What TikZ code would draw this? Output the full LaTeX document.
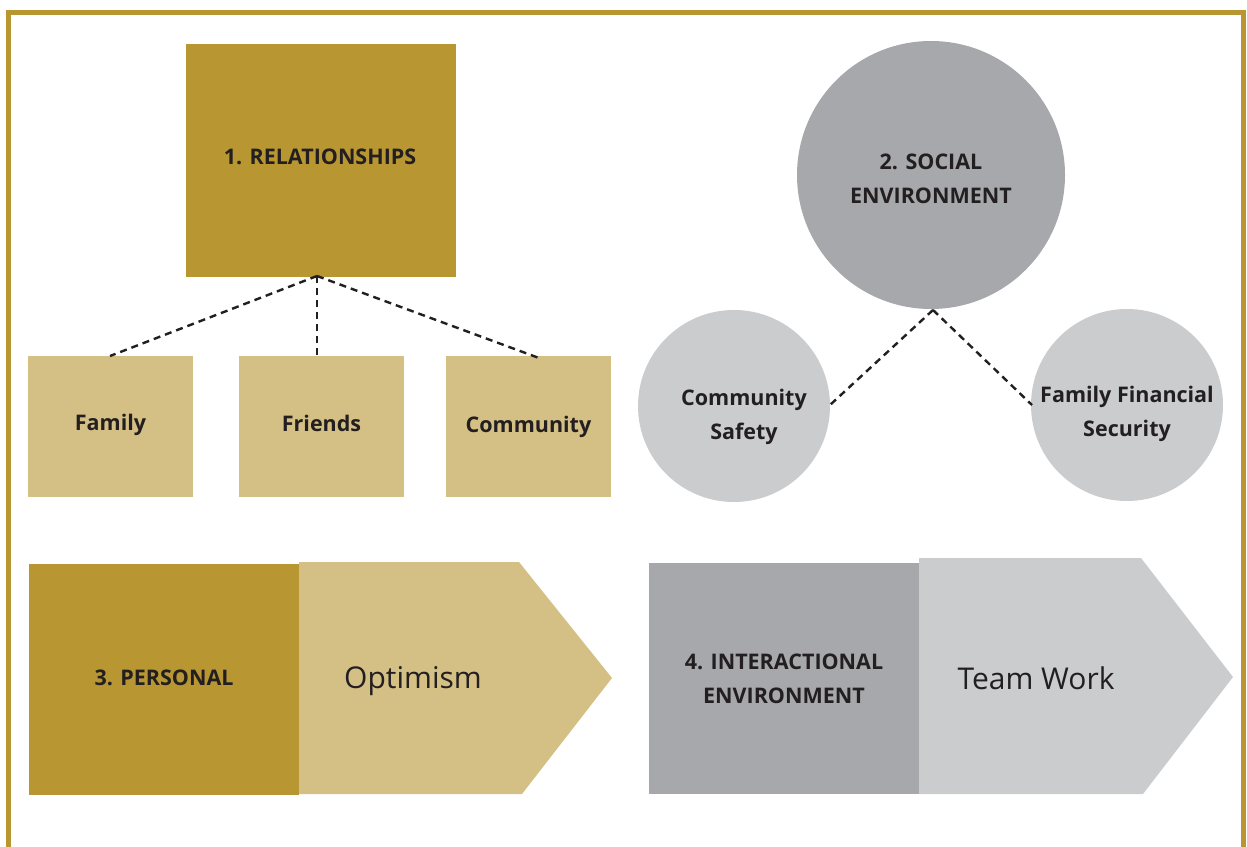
\documentclass[tikz,border=0pt]{standalone}
\usepackage{fontspec}
\setmainfont{Open Sans}
\usetikzlibrary{positioning}
\definecolor{gold}{RGB}{184,150,50}
\definecolor{lightgold}{RGB}{212,192,133}
\definecolor{darkgray}{RGB}{167,168,171}
\definecolor{lightgray}{RGB}{203,204,206}
\definecolor{txt}{RGB}{35,31,32}
\tikzset{
  lbl/.style={text=txt,font=\bfseries\fontsize{21.5}{34}\selectfont,align=center},
  big/.style={text=txt,font=\fontsize{30}{34}\selectfont},
  conn/.style={draw=txt,line width=2.4pt,dash pattern=on 7pt off 5pt},
}
\begin{document}
\begin{tikzpicture}[x=1pt,y=-1pt]
\useasboundingbox (0,0) rectangle (1247,846);
% frame
\draw[gold,line width=5pt] (8.5,850) -- (8.5,12.5) -- (1243.5,12.5) -- (1243.5,850);
% 1 relationships
\fill[gold] (186,44) rectangle (456,277);
\node[lbl] (rel) at (320,157) {1. RELATIONSHIPS};
\coordinate (relb) at (317,276);
\fill[lightgold] (28,356) rectangle (193,497);
\node[lbl] (fam) at (110.5,425) {Family};
\coordinate (famt) at (110,356);
\fill[lightgold] (239,356) rectangle (404,497);
\node[lbl] (fri) at (321.5,423) {Friends};
\coordinate (frit) at (317,356);
\fill[lightgold] (446,356) rectangle (611,497);
\node[lbl] (com) at (528.5,427) {Community};
\coordinate (comt) at (539,358);
\draw[conn] (relb) -- (famt);
\draw[conn] (relb) -- (frit);
\draw[conn] (relb) -- (comt);
% 2 social
\fill[darkgray] (931,175) circle[radius=134];
\node[lbl] (soc) at (931,179) {2. SOCIAL\\ENVIRONMENT};
\coordinate (socb) at (933,310);
\fill[lightgray] (734,406) circle[radius=96];
\node[lbl] (cs) at (744,417) {Community\\Safety};
\coordinate (cse) at (830,405);
\fill[lightgray] (1127,405) circle[radius=96];
\node[lbl] (ffs) at (1127,414) {Family Financial\\Security};
\coordinate (ffsw) at (1032,405);
\draw[conn] (socb) -- (cse);
\draw[conn] (socb) -- (ffsw);
% 3 personal
\fill[lightgold] (299,562) -- (519,562) -- (612,678) -- (522,794) -- (299,794) -- cycle;
\fill[gold] (29,564) rectangle (299,795);
\node[lbl] (per) at (164,678) {3. PERSONAL};
\node[big] (opt) at (413,681) {Optimism};
% 4 interactional
\fill[lightgray] (919,558) -- (1141,558) -- (1233,677) -- (1143,794) -- (919,794) -- cycle;
\fill[darkgray] (649,563) rectangle (919,794);
\node[lbl] (int) at (784,679) {4. INTERACTIONAL\\ENVIRONMENT};
\node[big] (tw) at (1036,678) {Team Work};
\end{tikzpicture}
\end{document}
